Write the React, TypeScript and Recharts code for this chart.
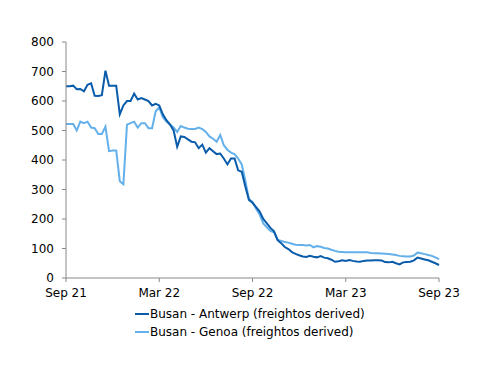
import { Line, LineChart, XAxis, YAxis } from "recharts";

// weekly observations, Sep 2021 -> Sep 2023
const antwerp = [
  650, 650, 652, 640, 641, 633, 655, 660, 618, 617,
  620, 703, 652, 652, 652, 555, 585, 600, 600, 625,
  605, 610, 605, 600, 585, 590, 585, 555, 535, 520,
  500, 445, 480, 478, 470, 462, 460, 440, 452, 425,
  440, 430, 420, 422, 405, 385, 405, 405, 365, 360,
  310, 265, 255, 240, 225, 200, 185, 170, 158, 128,
  118, 105, 98, 88, 82, 77, 73, 71, 75, 72,
  70, 74, 69, 67, 62, 55, 57, 60, 58, 61,
  58, 56, 55, 58, 59, 59, 60, 60, 59, 54,
  53, 55, 50, 46, 53, 54, 55, 60, 69, 66,
  63, 60, 55, 50, 44,
];

const genoa = [
  522, 522, 522, 500, 530, 525, 530, 510, 508, 488,
  488, 513, 430, 432, 432, 328, 318, 520, 525, 530,
  510, 525, 525, 508, 508, 565, 578, 545, 530, 520,
  510, 495, 515, 510, 506, 505, 505, 510, 505, 495,
  480, 472, 462, 485, 450, 435, 425, 420, 405, 385,
  330, 268, 258, 235, 215, 185, 172, 160, 155, 130,
  126, 122, 120, 116, 113, 112, 112, 110, 112, 104,
  108, 106, 102, 100, 96, 92, 89, 88, 87, 87,
  87, 87, 87, 87, 87, 85, 84, 84, 83, 82,
  81, 80, 78, 75, 74, 73, 73, 76, 86, 84,
  81, 78, 75, 70, 64,
];

const tickWeeks = [0, 26, 52, 78, 104];
const tickLabels = ["Sep 21", "Mar 22", "Sep 22", "Mar 23", "Sep 23"];
const yTicks = [0, 100, 200, 300, 400, 500, 600, 700, 800];

const seriesNames = [
  "Busan - Antwerp (freightos derived)",
  "Busan - Genoa (freightos derived)",
];
const DARK = "#0a5cab";
const LIGHT = "#64b0ea";

const data = antwerp.map((v, i) => ({ week: i, antwerp: v, genoa: genoa[i] }));

function LegendBox() {
  const items = [
    { name: seriesNames[0], color: DARK },
    { name: seriesNames[1], color: LIGHT },
  ];
  return (
    <div style={{ position: "absolute", left: 135, top: 305 }}>
      {items.map((it) => (
        <div
          key={it.name}
          style={{ display: "flex", alignItems: "center", height: 18, fontSize: 12, color: "#000" }}
        >
          <span style={{ width: 14, height: 2, background: it.color, marginRight: 1 }} />
          <span>{it.name}</span>
        </div>
      ))}
    </div>
  );
}

export default function App() {
  const tickStyle = { fontSize: 12, fill: "#000", fontFamily: "DejaVu Sans" };
  return (
    <div style={{ position: "absolute", left: 0, top: 0, width: 500, height: 386, fontFamily: "DejaVu Sans", background: "#fff" }}>
      <LineChart width={500} height={386} data={data} margin={{ top: 42, right: 61, left: 0, bottom: 78 }}>
        <XAxis
          type="number"
          dataKey="week"
          domain={[0, 104]}
          ticks={tickWeeks}
          tickFormatter={(w) => tickLabels[tickWeeks.indexOf(w)] ?? ""}
          stroke="#888"
          tickSize={4}
          tickMargin={6}
          height={30}
          tick={tickStyle}
        />
        <YAxis
          domain={[0, 800]}
          ticks={yTicks}
          width={66}
          stroke="#888"
          tickSize={4}
          tickMargin={8}
          tick={tickStyle}
        />
        <Line
          dataKey="genoa"
          name={seriesNames[1]}
          stroke={LIGHT}
          strokeWidth={2}
          dot={false}
          isAnimationActive={false}
        />
        <Line
          dataKey="antwerp"
          name={seriesNames[0]}
          stroke={DARK}
          strokeWidth={2}
          dot={false}
          isAnimationActive={false}
        />
      </LineChart>
      <LegendBox />
    </div>
  );
}
